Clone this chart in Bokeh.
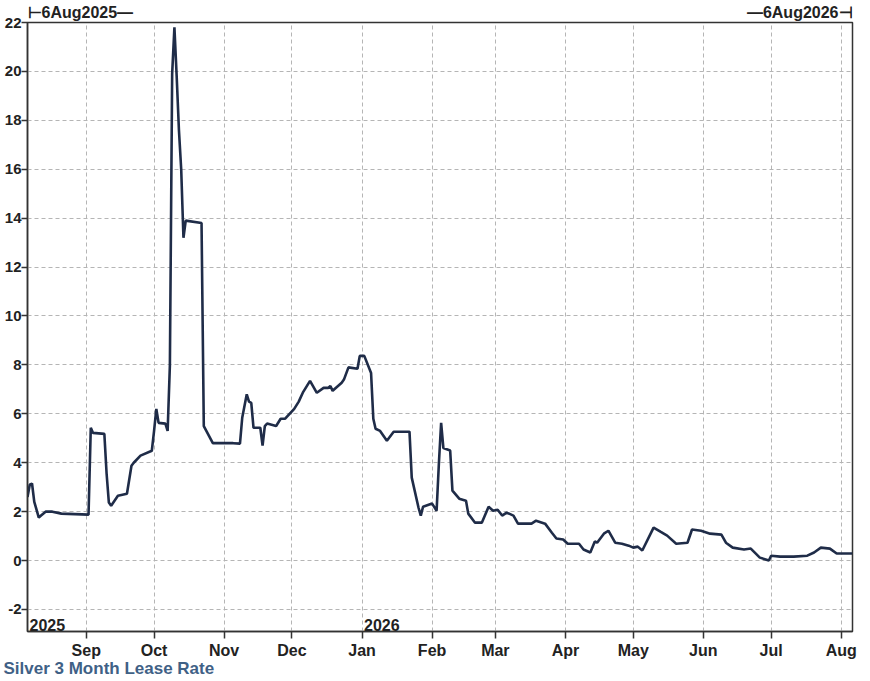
import pandas as pd
from bokeh.plotting import figure
from bokeh.layouts import column
from bokeh.models import (Range1d, MonthsTicker, DatetimeTickFormatter, SingleIntervalTicker,
                          Label, Title)
from bokeh.embed import file_html
from bokeh.resources import INLINE

# ---- data ----
dates = [
    "2025-08-06", "2025-08-07", "2025-08-08", "2025-08-09", "2025-08-11", "2025-08-12",
    "2025-08-14", "2025-08-17", "2025-08-21", "2025-08-27", "2025-09-02", "2025-09-03",
    "2025-09-04", "2025-09-09", "2025-09-10", "2025-09-11", "2025-09-12", "2025-09-15",
    "2025-09-19", "2025-09-21", "2025-09-22", "2025-09-25", "2025-09-30", "2025-10-01",
    "2025-10-02", "2025-10-03", "2025-10-06", "2025-10-07", "2025-10-08", "2025-10-09",
    "2025-10-10", "2025-10-11", "2025-10-12", "2025-10-13", "2025-10-14", "2025-10-15",
    "2025-10-22", "2025-10-23", "2025-10-27", "2025-11-05", "2025-11-08", "2025-11-09",
    "2025-11-11", "2025-11-12", "2025-11-13", "2025-11-14", "2025-11-17", "2025-11-18",
    "2025-11-19", "2025-11-20", "2025-11-24", "2025-11-26", "2025-11-28", "2025-12-02",
    "2025-12-04", "2025-12-06", "2025-12-09", "2025-12-12", "2025-12-15", "2025-12-17",
    "2025-12-18", "2025-12-19", "2025-12-23", "2025-12-24", "2025-12-26", "2025-12-30",
    "2025-12-31", "2026-01-02", "2026-01-05", "2026-01-06", "2026-01-07", "2026-01-09",
    "2026-01-12", "2026-01-15", "2026-01-22", "2026-01-23", "2026-01-26", "2026-01-27",
    "2026-01-28", "2026-02-01", "2026-02-03", "2026-02-04", "2026-02-05", "2026-02-06",
    "2026-02-09", "2026-02-10", "2026-02-13", "2026-02-16", "2026-02-17", "2026-02-20",
    "2026-02-23", "2026-02-26", "2026-02-28", "2026-03-02", "2026-03-04", "2026-03-06",
    "2026-03-09", "2026-03-11", "2026-03-17", "2026-03-19", "2026-03-23", "2026-03-26",
    "2026-03-28", "2026-03-31", "2026-04-02", "2026-04-07", "2026-04-09", "2026-04-12",
    "2026-04-14", "2026-04-15", "2026-04-18", "2026-04-20", "2026-04-23", "2026-04-26",
    "2026-04-29", "2026-05-01", "2026-05-03", "2026-05-05", "2026-05-10", "2026-05-13",
    "2026-05-16", "2026-05-20", "2026-05-25", "2026-05-27", "2026-05-31", "2026-06-04",
    "2026-06-09", "2026-06-11", "2026-06-14", "2026-06-19", "2026-06-22", "2026-06-26",
    "2026-06-30", "2026-07-01", "2026-07-05", "2026-07-11", "2026-07-17", "2026-07-20",
    "2026-07-23", "2026-07-27", "2026-07-30", "2026-08-06",
]
lease_rate = [
    2.6, 3.1, 3.15, 2.4, 1.76, 1.84,
    2.0, 2.0, 1.92, 1.9, 1.88, 5.43,
    5.22, 5.18, 3.55, 2.37, 2.24, 2.65,
    2.73, 3.88, 4.0, 4.29, 4.49, 5.3,
    6.2, 5.63, 5.6, 5.3, 8.0, 19.9,
    21.8, 19.8, 17.6, 16.0, 13.2, 13.9,
    13.8, 5.5, 4.8, 4.8, 4.78, 5.84,
    6.8, 6.5, 6.45, 5.43, 5.43, 4.7,
    5.5, 5.6, 5.5, 5.8, 5.8, 6.2,
    6.5, 6.9, 7.35, 6.86, 7.06, 7.06,
    7.14, 6.94, 7.27, 7.4, 7.9, 7.84,
    8.37, 8.37, 7.67, 5.8, 5.39, 5.3,
    4.9, 5.27, 5.27, 3.39, 2.16, 1.84,
    2.2, 2.33, 2.04, 3.96, 5.63, 4.6,
    4.5, 2.86, 2.53, 2.45, 1.92, 1.55,
    1.55, 2.2, 2.04, 2.08, 1.84, 1.96,
    1.84, 1.51, 1.51, 1.63, 1.51, 1.14,
    0.9, 0.86, 0.69, 0.69, 0.45, 0.33,
    0.78, 0.73, 1.1, 1.22, 0.73, 0.69,
    0.61, 0.53, 0.57, 0.41, 1.35, 1.18,
    1.02, 0.69, 0.73, 1.27, 1.22, 1.1,
    1.06, 0.73, 0.53, 0.45, 0.49, 0.12,
    0.0, 0.2, 0.16, 0.16, 0.2, 0.33,
    0.53, 0.49, 0.29, 0.29,
]
range_start = "2025-08-06"
range_end = "2026-08-06"
range_start_label = "⊢6Aug2025—"
range_end_label = "—6Aug2026⊣"
year_labels = [("2025-08-06", "2025"), ("2026-01-01", "2026")]
y_min, y_max = -2.9, 22
title_text = "Silver 3 Month Lease Rate"

FONT = "Liberation Sans"
DARK = "#222222"
W = 864
LEFT, RIGHT = 27, 12
TOP_H = 22
OVERLAP = 8

x = pd.to_datetime(dates)
x0 = pd.Timestamp(range_start)
x1 = pd.Timestamp(range_end)
xr = Range1d(x0, x1)

# ---- strip above the chart carrying the date-range labels ----
top = figure(width=W, height=TOP_H, x_axis_type="datetime", x_range=xr,
             y_range=Range1d(0, 1), output_backend="svg", toolbar_location=None,
             x_axis_location=None, y_axis_location=None,
             min_border_left=LEFT, min_border_right=RIGHT, min_border_top=0,
             min_border_bottom=0)
top.outline_line_color = None
top.background_fill_color = None
top.border_fill_color = None
top.xgrid.visible = False
top.ygrid.visible = False
top.add_layout(Label(x=x0, y=0, text=range_start_label, text_align="left",
                     text_baseline="bottom", y_offset=2, text_font=FONT,
                     text_font_style="bold", text_font_size="16px", text_color=DARK))
top.add_layout(Label(x=x1, y=0, text=range_end_label, text_align="right",
                     text_baseline="bottom", y_offset=2, text_font=FONT,
                     text_font_style="bold", text_font_size="16px", text_color=DARK))

# ---- main chart ----
p = figure(width=W, height=662, x_axis_type="datetime",
           x_range=xr, y_range=Range1d(y_min, y_max),
           output_backend="svg", toolbar_location=None,
           min_border_left=LEFT, min_border_right=RIGHT, min_border_top=OVERLAP,
           min_border_bottom=20, margin=(-OVERLAP, 0, 0, 0))

p.background_fill_color = "white"
p.border_fill_color = None
p.outline_line_color = "#333333"
p.outline_line_width = 1.5

# axes
p.xaxis.ticker = MonthsTicker(months=list(range(12)))
p.xaxis.formatter = DatetimeTickFormatter(months="%b", days="%b", years="%b")
p.yaxis.ticker = SingleIntervalTicker(interval=2)
p.yaxis.major_label_overrides = {-2: "-2"}
for ax in (p.xaxis[0], p.yaxis[0]):
    ax.axis_line_color = "#333333"
    ax.axis_line_width = 1.5
    ax.major_tick_line_color = "#333333"
    ax.major_tick_line_width = 1.5
    ax.major_tick_in = 0
    ax.major_tick_out = 7
    ax.minor_tick_line_color = None
    ax.major_label_text_font = FONT
    ax.major_label_text_font_style = "bold"
    ax.major_label_text_color = DARK
p.xaxis.major_label_text_font_size = "16px"
p.yaxis.major_label_text_font_size = "15px"
p.yaxis.major_tick_out = 6
p.yaxis.major_label_standoff = 0
p.xaxis.major_label_standoff = 3

# grid
p.xgrid.ticker = p.xaxis[0].ticker
p.ygrid.ticker = p.yaxis[0].ticker
for g in (p.xgrid[0], p.ygrid[0]):
    g.grid_line_color = "#b5b5b5"
    g.grid_line_dash = "4 3"
    g.grid_line_width = 1

# data line
p.line(x, lease_rate, line_color="#1f2c48", line_width=2.6)

# year labels inside frame
for d, t in year_labels:
    p.add_layout(Label(x=pd.Timestamp(d), y=y_min, text=t, text_align="left",
                       text_baseline="bottom", x_offset=2, y_offset=1, text_font=FONT,
                       text_font_style="bold", text_font_size="16px", text_color=DARK))

# bottom title
p.add_layout(Title(text=title_text, align="left", vertical_align="top", text_font=FONT,
                   text_font_style="bold", text_font_size="17px",
                   text_color="#3f6186", standoff=-6, offset=-24), "below")

layout = column(top, p, spacing=0)
open("out.html", "w").write(file_html(layout, INLINE))
